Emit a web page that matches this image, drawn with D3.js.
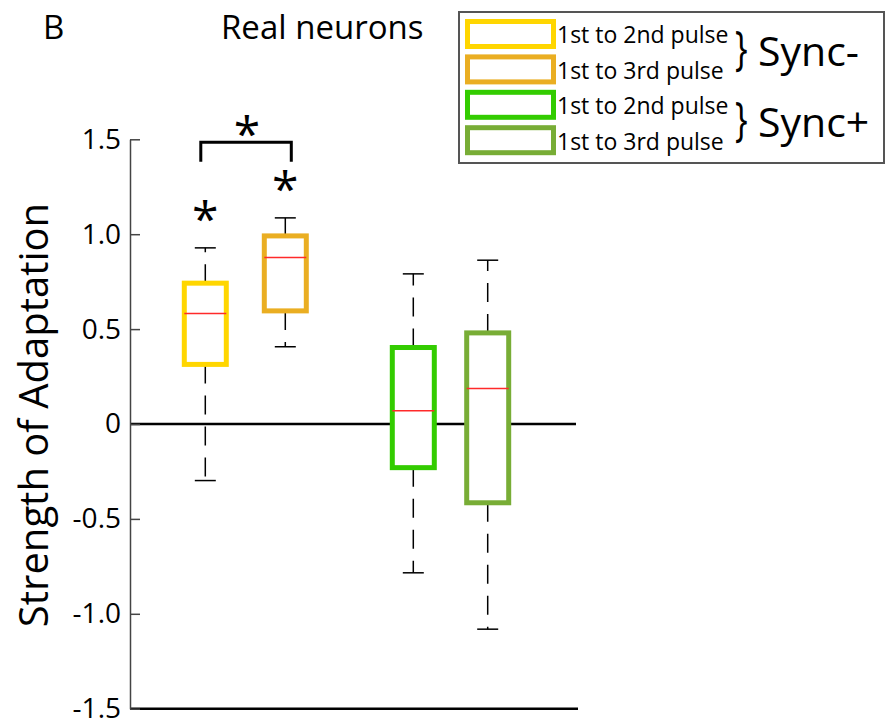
<!DOCTYPE html>
<html>
<head>
<meta charset="utf-8">
<script src="https://cdn.jsdelivr.net/npm/d3@7"></script>
<style>
  html, body { margin: 0; padding: 0; background: #fff; }
  svg { display: block; }
  text { font-family: "Open Sans", "DejaVu Sans", sans-serif; fill: #000; }
</style>
</head>
<body>
<script>
// Box-plot summaries for the strength of adaptation, real neurons
const categories = ["Sync- 1st to 2nd pulse", "Sync- 1st to 3rd pulse", "Sync+ 1st to 2nd pulse", "Sync+ 1st to 3rd pulse"];
const groupPositions = [1, 2, 3.6, 4.53];
const whiskerLow  = [-0.298, 0.407, -0.784, -1.081];
const q1          = [0.314, 0.596, -0.230, -0.415];
const medians     = [0.582, 0.877, 0.070, 0.187];
const q3          = [0.742, 0.991, 0.403, 0.480];
const whiskerHigh = [0.928, 1.086, 0.791, 0.863];
const significant = [true, true, false, false];
const boxColors = ["#FFD600", "#EAAE22", "#33CC00", "#78AD36"];
const yTicks = [-1.5, -1.0, -0.5, 0, 0.5, 1.0, 1.5];
const yTickLabels = ["-1.5", "-1.0", "-0.5", "0", "0.5", "1.0", "1.5"];
const legendLabels = ["1st to 2nd pulse", "1st to 3rd pulse", "1st to 2nd pulse", "1st to 3rd pulse"];
const legendGroups = ["Sync-", "Sync+"];

const W = 887, H = 721;
const svg = d3.select("body").append("svg").attr("width", W).attr("height", H);

const x = d3.scaleLinear().domain([1, 2]).range([205.3, 285.3]);
const y = d3.scaleLinear().domain([-1.5, 1.5]).range([708.7, 139.3]);
const axisX = 130, plotRight = 576;
const boxHalf = 21, capHalf = 10.5;

// Reference lines at zero and at the bottom of the range
svg.append("line").attr("x1", axisX).attr("x2", plotRight)
  .attr("y1", y(0)).attr("y2", y(0)).attr("stroke", "#000").attr("stroke-width", 2.5);
svg.append("line").attr("x1", axisX).attr("x2", plotRight + 2)
  .attr("y1", y(-1.5)).attr("y2", y(-1.5)).attr("stroke", "#000").attr("stroke-width", 2.5);

// Y axis
const yAxis = d3.axisLeft(y)
  .tickValues(yTicks)
  .tickFormat((d, i) => yTickLabels[i])
  .tickSize(-10)
  .tickSizeOuter(0)
  .tickPadding(9);
const gy = svg.append("g").attr("transform", `translate(${axisX},0)`).call(yAxis);
gy.select(".domain").attr("stroke", "#444").attr("stroke-width", 1.5);
gy.selectAll(".tick line").attr("stroke", "#444").attr("stroke-width", 1.5);
gy.selectAll(".tick text").attr("font-size", 28).attr("font-family", "Open Sans, sans-serif").attr("fill", "#000");

// Boxes
const idx = d3.range(categories.length);
const g = svg.append("g");
const box = g.selectAll("g.box").data(idx).join("g").attr("class", "box");

// dashed whiskers
box.append("line")
  .attr("x1", i => x(groupPositions[i])).attr("x2", i => x(groupPositions[i]))
  .attr("y1", i => y(q3[i])).attr("y2", i => y(whiskerHigh[i]))
  .attr("stroke", "#000").attr("stroke-width", 1.5).attr("stroke-dasharray", "19,12");
box.append("line")
  .attr("x1", i => x(groupPositions[i])).attr("x2", i => x(groupPositions[i]))
  .attr("y1", i => y(q1[i])).attr("y2", i => y(whiskerLow[i]))
  .attr("stroke", "#000").attr("stroke-width", 1.5).attr("stroke-dasharray", "19,12");
// whisker caps
[whiskerHigh, whiskerLow].forEach(arr => {
  box.append("line")
    .attr("x1", i => x(groupPositions[i]) - capHalf).attr("x2", i => x(groupPositions[i]) + capHalf)
    .attr("y1", i => y(arr[i])).attr("y2", i => y(arr[i]))
    .attr("stroke", "#000").attr("stroke-width", 1.5);
});
// interquartile box
box.append("rect")
  .attr("x", i => x(groupPositions[i]) - boxHalf)
  .attr("width", boxHalf * 2)
  .attr("y", i => y(q3[i]))
  .attr("height", i => y(q1[i]) - y(q3[i]))
  .attr("fill", "#fff")
  .attr("stroke", i => boxColors[i]).attr("stroke-width", 5);
// median
box.append("line")
  .attr("x1", i => x(groupPositions[i]) - boxHalf).attr("x2", i => x(groupPositions[i]) + boxHalf)
  .attr("y1", i => y(medians[i])).attr("y2", i => y(medians[i]))
  .attr("stroke", "#FF2A2A").attr("stroke-width", 1.5);

// Significance stars above the Sync- boxes
const starSize = 48;
const starDrop = starSize * 0.48;
svg.selectAll("text.star").data(idx.filter(i => significant[i])).join("text")
  .attr("class", "star")
  .attr("x", i => x(groupPositions[i]))
  .attr("y", i => y(whiskerHigh[i]) - 35 + starDrop)
  .attr("text-anchor", "middle")
  .attr("font-size", starSize)
  .text("*");

// Bracket comparing the two Sync- conditions
const bx1 = x(groupPositions[0]) - 4.5, bx2 = x(groupPositions[1]) + 6;
const bTop = 142.3, bBottom = 161.7;
svg.append("path")
  .attr("d", `M${bx1},${bBottom} V${bTop} H${bx2} V${bBottom}`)
  .attr("fill", "none").attr("stroke", "#000").attr("stroke-width", 3);
svg.append("text")
  .attr("x", (bx1 + bx2) / 2 + 1)
  .attr("y", 128 + starDrop)
  .attr("text-anchor", "middle")
  .attr("font-size", starSize)
  .text("*");

// Panel letter and title
svg.append("text").attr("x", 43).attr("y", 39).attr("font-size", 33).text("B");
svg.append("text").attr("x", 221).attr("y", 39).attr("font-size", 33).text("Real neurons");

// Y axis title
svg.append("text")
  .attr("transform", "translate(48,415) rotate(-90)")
  .attr("text-anchor", "middle")
  .attr("font-size", 40)
  .text("Strength of Adaptation");

// Legend
const lg = svg.append("g");
lg.append("rect").attr("x", 459).attr("y", 12).attr("width", 425).attr("height", 151)
  .attr("fill", "#fff").attr("stroke", "#555").attr("stroke-width", 2);
const step = 35.4;
lg.selectAll("rect.sw").data(idx).join("rect").attr("class", "sw")
  .attr("x", 467.5).attr("width", 86)
  .attr("y", i => 21.5 + i * step).attr("height", 25)
  .attr("fill", "#fff").attr("stroke", i => boxColors[i]).attr("stroke-width", 5);
lg.selectAll("text.lab").data(legendLabels).join("text").attr("class", "lab")
  .attr("x", 557).attr("y", (d, i) => 43.3 + i * step)
  .attr("font-size", 23)
  .text(d => d);

// braces grouping each pair of legend rows, narrowed horizontally
const braceSize = 48;
lg.selectAll("text.brace").data(legendGroups).join("text").attr("class", "brace")
  .attr("font-size", braceSize)
  .attr("transform", (d, i) => `translate(735,${52 + i * 2 * step + braceSize * 0.27}) scale(0.7,1)`)
  .text("}");
lg.selectAll("text.grp").data(legendGroups).join("text").attr("class", "grp")
  .attr("x", 758).attr("y", (d, i) => 66 + i * 2 * step)
  .attr("font-size", 41)
  .text(d => d);
</script>
</body>
</html>
